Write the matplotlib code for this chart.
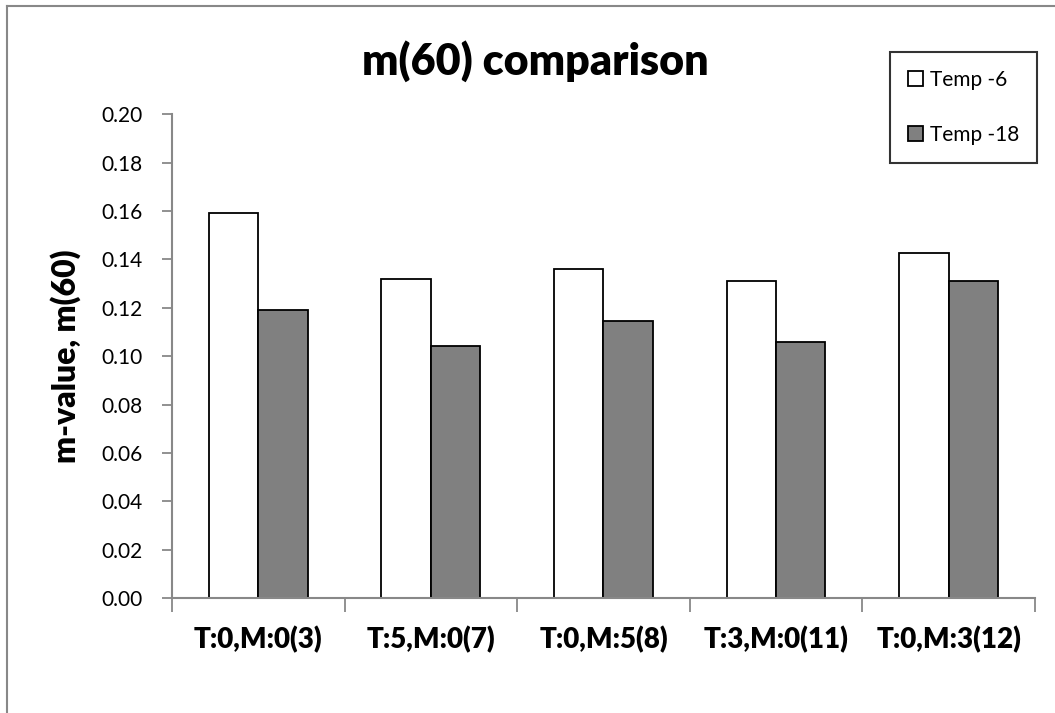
import numpy as np
import matplotlib.pyplot as plt
from matplotlib.lines import Line2D

# m(60) values per treatment at the two storage temperatures
categories = ['T:0,M:0(3)', 'T:5,M:0(7)', 'T:0,M:5(8)', 'T:3,M:0(11)', 'T:0,M:3(12)']
temp_6 = [0.159, 0.132, 0.136, 0.131, 0.1425]
temp_18 = [0.119, 0.104, 0.1147, 0.106, 0.131]
series_names = ['Temp -6', 'Temp -18']
y_ticks = [0.00, 0.02, 0.04, 0.06, 0.08, 0.10, 0.12, 0.14, 0.16, 0.18, 0.20]

plt.rcParams['font.family'] = ['Lato', 'DejaVu Sans']

fig = plt.figure(figsize=(10.55, 7.13), dpi=100)
ax = fig.add_axes([0.163, 0.1613, 0.818, 0.6784])

x = np.arange(len(categories))
w = 0.286
ax.bar(x - w / 2, temp_6, w, color='white', edgecolor='black', linewidth=1.3,
       label=series_names[0])
ax.bar(x + w / 2, temp_18, w, color='#808080', edgecolor='black', linewidth=1.3,
       label=series_names[1])

ax.set_xlim(-0.5, len(categories) - 0.5)
ax.set_ylim(0, 0.2)
ax.set_yticks(y_ticks)
ax.set_yticklabels([f'{v:.2f}' for v in y_ticks], fontsize=15)

ax.set_xticks(x)
ax.set_xticklabels(categories, fontsize=20)
ax.set_xticks(np.arange(len(categories) + 1) - 0.5, minor=True)
ax.tick_params(axis='x', which='major', length=0, pad=20)
ax.tick_params(axis='x', which='minor', length=10, color='#888888', width=1.3)
ax.tick_params(axis='y', length=7, color='#888888', width=1.3, pad=14)
for lbl in ax.get_xticklabels():
    lbl.set_fontweight('heavy')

for side in ['top', 'right']:
    ax.spines[side].set_visible(False)
for side in ['left', 'bottom']:
    ax.spines[side].set_color('#888888')
    ax.spines[side].set_linewidth(1.5)

ax.set_ylabel('m-value, m(60)', fontsize=23, fontweight='heavy', labelpad=15)
fig.text(0.507, 0.915, 'm(60) comparison', ha='center', va='center',
         fontsize=31, fontweight='heavy')

leg = ax.legend(loc='upper left', bbox_to_anchor=(890 / 1055, 1 - 52 / 713),
                bbox_transform=fig.transFigure, fontsize=15,
                frameon=True, fancybox=False, edgecolor='black',
                handlelength=0.75, handleheight=0.75, handletextpad=0.3,
                labelspacing=1.7, borderpad=0.85, borderaxespad=0)
leg.get_frame().set_linewidth(1.5)

# outer chart border (top and left edges)
fig.add_artist(Line2D([7 / 1055, 1], [1 - 6 / 713, 1 - 6 / 713],
                      color='#888888', linewidth=1.5, transform=fig.transFigure))
fig.add_artist(Line2D([7 / 1055, 7 / 1055], [0, 1 - 6 / 713],
                      color='#888888', linewidth=1.5, transform=fig.transFigure))

fig.savefig('out.png', dpi=100)
